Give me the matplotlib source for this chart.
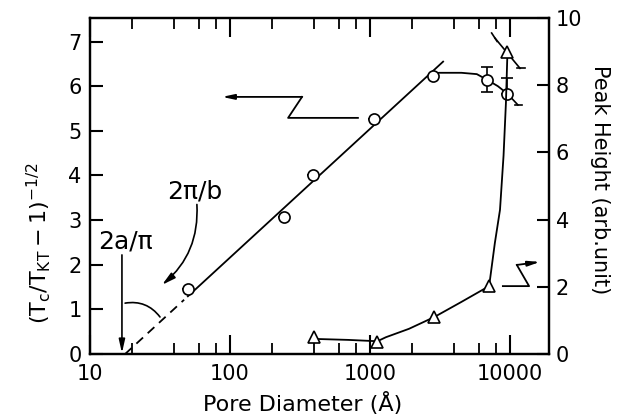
import numpy as np
import matplotlib.pyplot as plt
from matplotlib.ticker import FixedLocator, NullFormatter

plt.rcParams['font.family'] = 'DejaVu Sans'
plt.rcParams['mathtext.default'] = 'regular'

# open circles -> left axis
pore_c = [50, 245, 390, 1070, 2820, 6900, 9600]
tau_c = [1.46, 3.07, 4.01, 5.27, 6.23, 6.14, 5.83]
err_lo = [0, 0, 0, 0, 0, 0.28, 0]
err_hi = [0, 0, 0, 0, 0, 0.28, 0.36]

# open triangles -> right axis
pore_t = [398, 1130, 2880, 7100, 9600]
peak_t = [0.5, 0.36, 1.1, 2.02, 9.0]

# straight line fit (two ends)
fit_d = [17.8, 3330]
fit_v = [0.0, 6.55]

# guide curves drawn by hand in the original
guide_c_d = [2820, 3100, 4500, 5800, 6900, 8200, 9600]
guide_c_v = [6.23, 6.30, 6.30, 6.27, 6.14, 6.0, 5.83]
guide_t_d = [398, 700, 1130, 1300, 1900, 2880, 4500, 7100, 7800, 8490, 9000, 9360, 9600]
guide_t_v = [0.45, 0.42, 0.38, 0.5, 0.75, 1.1, 1.55, 2.02, 3.3, 4.29, 5.9, 7.47, 9.0]

# axis pointers (zigzag arrows)
zz_left_d = [820, 260, 327, 87.7]
zz_left_v = [5.29, 5.29, 5.76, 5.76]
zz_right_d = [8900, 13700, 11200, 16400]
zz_right_v = [2.02, 2.02, 2.65, 2.74]

xticks = [10, 100, 1000, 10000]
xticklabels = ["10", "100", "1000", "10000"]


def on_line(d):
    return np.interp(np.log10(d), np.log10(fit_d), fit_v)


fig = plt.figure(figsize=(6.21, 4.16), dpi=100)
ax = fig.add_axes([0.145, 0.149, 0.739, 0.808])
ax2 = ax.twinx()

lw = 1.3
# fit line: dashed near the intercept, solid after first point
d1 = np.array([17.8, 47])
ax.plot(d1, on_line(d1), color='k', lw=lw, dashes=(5, 3.5))
d2 = np.array([50, 3330])
ax.plot(d2, on_line(d2), color='k', lw=lw)
ax.plot(guide_c_d, guide_c_v, color='k', lw=lw)

ax.errorbar(pore_c, tau_c, yerr=[err_lo, err_hi], fmt='o', ms=8, mfc='white',
            mec='k', mew=1.2, ecolor='k', elinewidth=1.2, capsize=4, zorder=5)

# diagonal bar next to the last circle
ax.plot([9600, 11400], [5.83, 5.58], color='k', lw=1.2)
ax.plot([10900, 12100], [5.58, 5.58], color='k', lw=1.2)

# left pointer
ax.plot(zz_left_d[:3], zz_left_v[:3], color='k', lw=lw)
ax.annotate('', xy=(zz_left_d[3], zz_left_v[3]), xytext=(zz_left_d[2], zz_left_v[2]),
            arrowprops=dict(arrowstyle='-|>,head_length=0.7,head_width=0.15',
                            color='k', lw=lw, shrinkA=0, shrinkB=0))

# annotations
ax.text(11.4, 2.51, "2a/π", fontsize=18, ha='left', va='center')
ax.annotate('', xy=(16.9, 0.02), xytext=(16.9, 2.22),
            arrowprops=dict(arrowstyle='-|>,head_length=0.8,head_width=0.18',
                            color='k', lw=1.2, shrinkA=0, shrinkB=0))
ax.annotate('', xy=(31.6, 0.83), xytext=(17.8, 1.14),
            arrowprops=dict(arrowstyle='-', color='k', lw=1.2,
                            connectionstyle='arc3,rad=-0.3', shrinkA=0, shrinkB=0))
ax.text(35.5, 3.63, "2π/b", fontsize=18, ha='left', va='center')
ax.annotate('', xy=(32.7, 1.55), xytext=(58, 3.35),
            arrowprops=dict(arrowstyle='-|>,head_length=0.8,head_width=0.2',
                            color='k', lw=1.2, connectionstyle='arc3,rad=-0.25',
                            shrinkA=0, shrinkB=0))

# right axis data
ax2.plot(guide_t_d, guide_t_v, color='k', lw=lw)
ax2.plot(pore_t, peak_t, linestyle='none', marker='^', ms=9, mfc='white',
         mec='k', mew=1.2, zorder=5)
ax2.plot([7810, 11800], [9.4, 8.5], color='k', lw=1.2, zorder=3)
ax2.plot([11200, 12800], [8.5, 8.5], color='k', lw=1.2)
ax2.plot([7400, 8100], [9.55, 9.3], color='k', lw=1.2)
ax2.plot(zz_right_d[:3], zz_right_v[:3], color='k', lw=lw)
ax2.annotate('', xy=(zz_right_d[3], zz_right_v[3]), xytext=(zz_right_d[2], zz_right_v[2]),
             arrowprops=dict(arrowstyle='-|>,head_length=0.7,head_width=0.15',
                             color='k', lw=lw, shrinkA=0, shrinkB=0))

# axes formatting
ax.set_xscale('log')
ax.set_xlim(10, 19000)
ax.set_ylim(0, 7.53)
ax2.set_ylim(0, 10)
ax.xaxis.set_major_locator(FixedLocator(xticks))
ax.set_xticklabels(xticklabels)
minors = [m * 10 ** k for k in range(1, 5) for m in (2, 4, 6, 8)]
ax.xaxis.set_minor_locator(FixedLocator(minors))
ax.xaxis.set_minor_formatter(NullFormatter())
ax.set_yticks(range(0, 8))
ax2.set_yticks(range(0, 11, 2))

for a in (ax, ax2):
    for s in a.spines.values():
        s.set_linewidth(1.6)
ax.tick_params(axis='x', which='major', direction='in', length=14, width=1.5,
               top=True, labelsize=15, pad=7)
ax.tick_params(axis='x', which='minor', direction='in', length=8, width=1.3, top=True)
ax.tick_params(axis='y', which='major', direction='in', length=9, width=1.5,
               right=False, labelsize=15, pad=6)
ax2.tick_params(axis='y', direction='in', length=9, width=1.5, labelsize=15, pad=5)

ax.set_xlabel("Pore Diameter (Å)", fontsize=16, va='center')
ax.xaxis.set_label_coords(0.464, -0.146)
ax.set_ylabel(r"$(T_c/T_{KT}-1)^{-1/2}$", fontsize=16, va='center')
ax.yaxis.set_label_coords(-0.113, 0.33)
ax2.set_ylabel("Peak Height (arb.unit)", fontsize=15, rotation=270, va='center')
ax2.yaxis.set_label_coords(1.111, 0.52)

fig.savefig("out.png", dpi=100)
